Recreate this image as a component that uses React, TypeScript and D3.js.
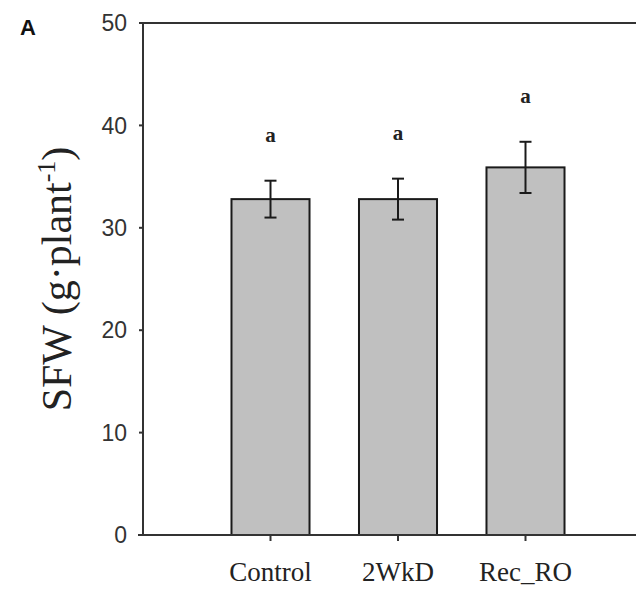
import React from "react";
import * as d3 from "d3";

const categories = ["Control", "2WkD", "Rec_RO"];
const means = [32.8, 32.8, 35.9];
const errors = [1.8, 2.0, 2.5];
const letters = ["a", "a", "a"];
const yTicks = [0, 10, 20, 30, 40, 50];

const width = 636;
const height = 589;
const left = 143;
const top = 23;
const bottom = 535;

export default function App() {
    const y = d3.scaleLinear().domain([0, 50]).range([bottom, top]);
    // band scale runs past the right edge, the original figure is cropped there
    const x = d3.scaleBand<string>().domain(categories).range([left, 653]).paddingInner(0.388).paddingOuter(0.694);
    const bw = x.bandwidth();
    const axisColor = "#333";

    return (
        <svg width={width} height={height} style={{ position: "absolute", left: 0, top: 0, background: "#fff" }}>
            <text x={28} y={35} textAnchor="middle" fontFamily="Liberation Sans, Arial, sans-serif" fontWeight="bold" fontSize={22} fill="#111">
                A
            </text>

            {/* bars */}
            {categories.map((c, i) => (
                <rect key={c} x={x(c)} y={y(means[i])} width={bw} height={bottom - y(means[i])} fill="#c0c0c0" stroke="#1a1a1a" strokeWidth={2} />
            ))}

            {/* error bars */}
            {categories.map((c, i) => {
                const cx = (x(c) as number) + bw / 2;
                const y1 = y(means[i] + errors[i]);
                const y2 = y(means[i] - errors[i]);
                return (
                    <g key={c} stroke="#1a1a1a" strokeWidth={2}>
                        <line x1={cx} x2={cx} y1={y1} y2={y2} />
                        <line x1={cx - 6} x2={cx + 6} y1={y1} y2={y1} />
                        <line x1={cx - 6} x2={cx + 6} y1={y2} y2={y2} />
                    </g>
                );
            })}

            {/* significance letters */}
            {categories.map((c, i) => (
                <text key={c} x={(x(c) as number) + bw / 2} y={y(means[i] + errors[i]) - 39} textAnchor="middle" fontFamily="Liberation Serif, Times New Roman, serif" fontWeight="bold" fontSize={21} fill="#222">
                    {letters[i]}
                </text>
            ))}

            {/* axes frame */}
            <line x1={left} x2={width} y1={top} y2={top} stroke={axisColor} strokeWidth={2} />
            <line x1={left} x2={left} y1={top - 1} y2={bottom} stroke={axisColor} strokeWidth={2} />
            <line x1={left - 5} x2={width} y1={bottom} y2={bottom} stroke={axisColor} strokeWidth={2} />

            {yTicks.map((t) => (
                <g key={t}>
                    <line x1={left - 4} x2={left} y1={y(t)} y2={y(t)} stroke={axisColor} strokeWidth={2} />
                    <text x={127} y={y(t)} dy="0.36em" textAnchor="end" fontFamily="Liberation Sans, Arial, sans-serif" fontSize={23} fill="#333">
                        {t}
                    </text>
                </g>
            ))}

            {categories.map((c) => {
                const cx = (x(c) as number) + bw / 2;
                return (
                    <g key={c}>
                        <line x1={cx} x2={cx} y1={bottom} y2={bottom + 6} stroke={axisColor} strokeWidth={2} />
                        <text x={cx} y={581} textAnchor="middle" fontFamily="Liberation Serif, Times New Roman, serif" fontSize={27} fill="#222">
                            {c}
                        </text>
                    </g>
                );
            })}

            <text transform="translate(71,279) rotate(-90)" textAnchor="middle" fontFamily="Liberation Serif, Times New Roman, serif" fontSize={42} fill="#222">
                SFW (g·plant
                <tspan fontSize={26} dy={-16}>-1</tspan>
                <tspan dy={16}>)</tspan>
            </text>
        </svg>
    );
}
